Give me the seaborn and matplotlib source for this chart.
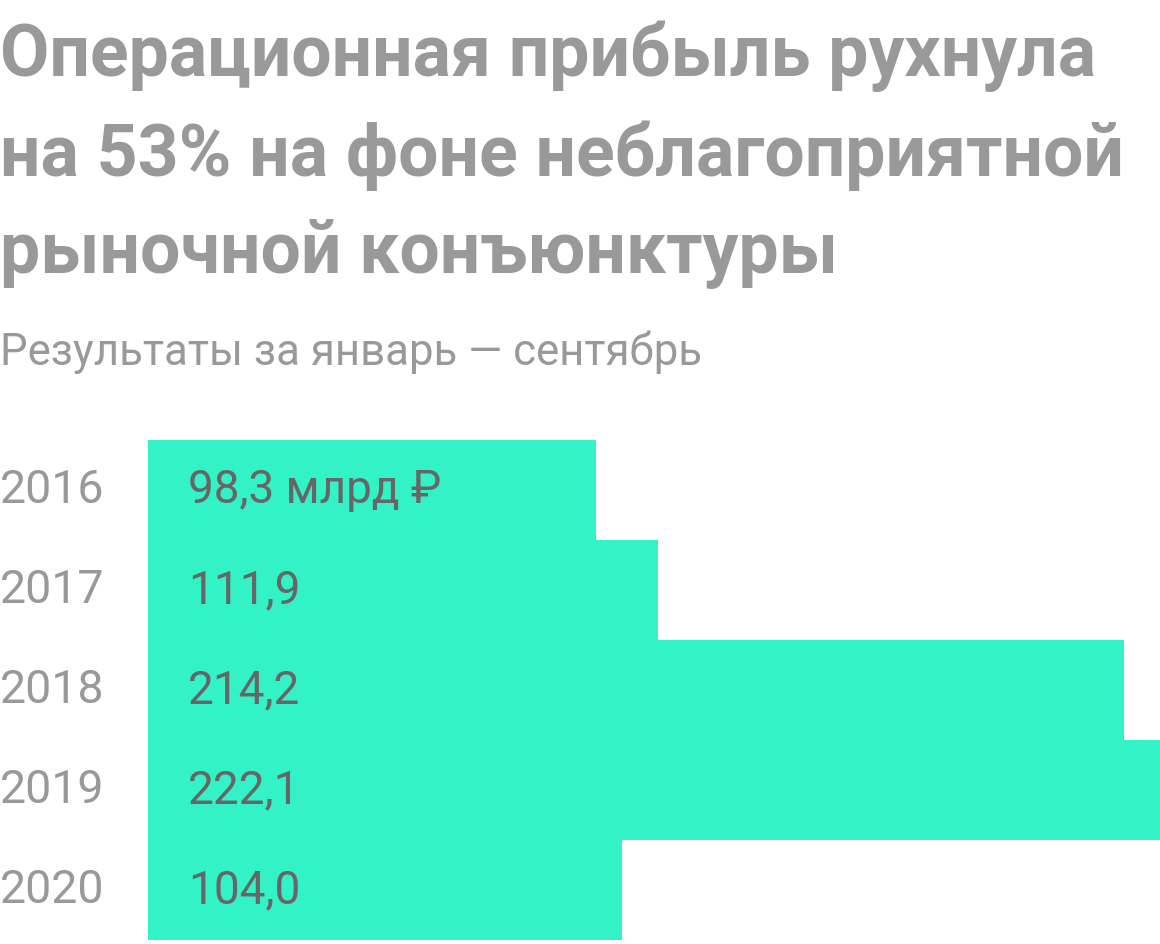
import matplotlib
matplotlib.use('Agg')
import matplotlib.pyplot as plt
import seaborn as sns
import pandas as pd

# Данные
anos = ['2016', '2017', '2018', '2019', '2020']
lucro = [98.3, 111.9, 214.2, 222.1, 104.0]
rotulos = ['98,3 млрд ₽', '111,9', '214,2', '222,1', '104,0']

titulo = 'Операционная прибыль рухнула\nна 53% на фоне неблагоприятной\nрыночной конъюнктуры'
subtitulo = 'Результаты за январь — сентябрь'

sns.set_style('white')
plt.rcParams['font.family'] = ['Roboto', 'DejaVu Sans']

df = pd.DataFrame({'ano': anos, 'lucro': lucro})

fig = plt.figure(figsize=(11.6, 9.44), dpi=100)
ax = fig.add_axes([148 / 1160, 4 / 944, 1 - 148 / 1160, 500 / 944])

sns.barplot(data=df, x='lucro', y='ano', color='#33F2C5', saturation=1,
            width=1.0, ax=ax, orient='h', linewidth=0, edgecolor='none')
ax.set_xlim(0, 222.1)
ax.set_ylim(4.5, -0.5)
ax.set_xlabel('')
ax.set_ylabel('')
ax.set_xticks([])
ax.set_yticks([])
sns.despine(ax=ax, left=True, bottom=True)

for i, (ano, txt) in enumerate(zip(anos, rotulos)):
    ax.text(40 / 4.556, i, txt, va='center', ha='left', fontsize=33,
            color='#666666')
    # rótulo do ano à esquerda
    ax.annotate(ano, xy=(0, i), xycoords=('figure fraction', 'data'),
                va='center', ha='left', fontsize=33.5, color='#999999',
                annotation_clip=False)

fig.text(0, 1 - 20 / 944, titulo, ha='left', va='top', fontsize=51.5,
         fontweight='bold', color='#999999', linespacing=1.52)
fig.text(0, 1 - 330 / 944, subtitulo, ha='left', va='top', fontsize=31.5,
         color='#999999')

fig.savefig('out.png', dpi=100)
